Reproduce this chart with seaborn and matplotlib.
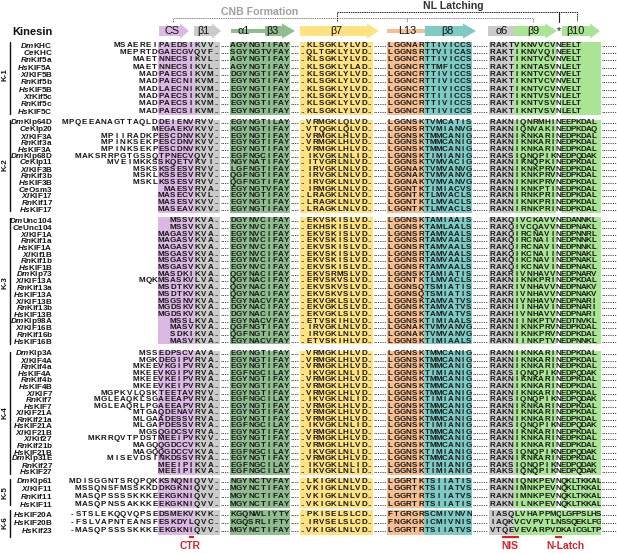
import numpy as np
import seaborn as sns
import matplotlib.pyplot as plt
from matplotlib.colors import ListedColormap
from matplotlib.patches import Polygon, Rectangle

W, H = 617, 554

# names are species|protein, rows are nterm cs b1 a1 b7 l13 b8 a6 b9 nl b10 ("_" = nothing)
K1_NAMES = ['Dm|KHC', 'Ce|KHC', 'Rn|Kif5a', 'Hs|KIF5A', 'Xl|KIF5B', 'Rn|Kif5b', 'Hs|KIF5B', 'Xt|Kif5c', 'Rn|Kif5c', 'Hs|KIF5C']
K1_SEQS = [
    'MSAEREI PAEDSI KVV AGYNGTIFAY KLSGKLYLVD LGGNAR TTIVICCS RAKT VKNVVCV N EELT',
    'MEPRTD GAECGV QVF SGYNGTVFAY QLTGKLYLVD LGGNSR TTVIICAS RAKT IKNVVQI N EELT',
    'MAET NNECSI KVL AGYNGTIFAY KLSGKLYLVD LGGNCR TTIVICCS RAKT IKNTVCV N VELT',
    'MAET NNECSI KVL AGYNGTIFAY KLSGKLYLAD LGGNCR TTMFICCS RAKT IKNTASV N LELT',
    'MAD PAECSI KVM DGYNGTIFAY KLSGKLYLVD LGGNCR TTIVICCS RAKT IKNTVCV N VELT',
    'MAD PAECNI KVM EGYNGTIFAY KLSGKLYLVD LGGNCR TTIVICCS RAKT IKNTVCV N VELT',
    'MAD LAECNI KVM EGYNGTIFAY KLSGKLYLVD LGGNCR TTIVICCS RAKT IKNTVCV N VELT',
    'MAD PAECSI KVM DGYNGTIFAY KLSGKLYLVD LGGNCR TTIIICCS RAKT IKNTVSV N LELT',
    'MAD PAECSI KVM EGYNGTIFAY KLSGKLYLVD LGGNCR TTIVICCS RAKT IKNTVSV N LELT',
    'MAD PAECSI KVM EGYNGTIFAY KLSGKLYLVD LGGNCR TTIVICCS RAKT IKNTVSV N LELT',
]
K2_NAMES = ['Dm|Klp64D', 'Ce|Klp20', 'Xl|KIF3A', 'Rn|Kif3a', 'Hs|KIF3A', 'Dm|Klp68D', 'Ce|Klp11', 'Xl|KIF3B', 'Rn|Kif3b', 'Hs|KIF3B', 'Ce|Osm3', 'Xl|KIF17', 'Rn|Kif17', 'Hs|KIF17']
K2_SEQS = [
    'MPQEEANAGTTAQLD DEIENV RVV EGYNGTILAY VRMGKLQLVD LGGNSK TVMCATIS RAKN IQNRMHI N EEPKDAL',
    'M EGAEKV KVV KGYNGTIFAY VTQGKLQLVD LGGNSR TVMIANVG RAKN IQNVAKI N EDPKDAQ',
    'MPIIRADKP ESCDNV KVV EGYNGTIFAY VRMGKLHLVD LGGNSK TMMCANIG RAKN IKNKARI N EDPKDAL',
    'MPINKSEKP ESCDNV KVV EGYNGTIFAY VRMGKLHLVD LGGNSK TMMCANIG RAKN IKNKARI N EDPKDAL',
    'MPINKSEKP ESCDNV KVV EGYNGTIFAY VRMGKLHLVD LGGNSK TMMCANIG RAKN IKNKARI N EDPKDAL',
    'MAKSRRPGTGSSQ TPNECV QVV EGFNGCIFAY IKVGKLNLID LGGNSK TIMIANIG RAKS IQNQPIK N EDPQDAK',
    'MVEIMKKS SKQETV KVI NGYNATIFAY ITVGRLNLVD LGGNSK TVMVACIG RAKN IKNQPKI N EDPKDAL',
    'MSKS KSSESV RVV LGFNGTIFAY IRVGKLNLVD LGGNAK TVMVANVG RAKN IKNKPRV N EDPKDAL',
    'MSKL KSSESV RVV QGFNGTIFAY IRVGKLNLVD LGGNAK TVMVANVG RAKN IKNKPRV N EDPKDAL',
    'MSKL KSSESV RVV QGFNGTIFAY IRVGKLNLVD LGGNAK TVMVANVG RAKN IKNKPRV N EDPKDAL',
    '_ MAESV RVA EGYNGTVFAY IRMGKLNLVD LGGNTK TIMIACVS RAKN IKNKPTI N EDPKDAL',
    '_ MASECV KVL EGYNGTIFAY LRAGKLNLVD LGGNTK TLMVACLS RAKN IRNKPRI N EDPKDAL',
    '_ MASESV KVV EGYNGTIFAY LRAGKLNLVD LGGNTK TLMVACLS RAKN IKNKPRI N EDPKDAL',
    '_ MASEAV KVV EGYNGTIFAY LRAGKLNLVD LGGNTK TLMVACLS RAKN IRNKPRI N EDPKDAL',
]
K3_NAMES = ['Dm|Unc104', 'Ce|Unc104', 'Xl|KIF1A', 'Rn|Kif1a', 'Hs|KIF1A', 'Xl|Kif1B', 'Rn|Kif1b', 'Hs|KIF1B', 'Dm|Klp73', 'Xl|KIF13A', 'Rn|Kif13a', 'Hs|KIF13A', 'Xl|KIF13B', 'Rn|Kif13b', 'Hs|KIF13B', 'Dm|Klp98A', 'Xl|KIF16B', 'Rn|Kif16b', 'Hs|KIF16B']
K3_SEQS = [
    '_ MSSV KVA DGYNVCIFAY EKVSKISLVD LGGNSK TAMIAAIS RAKQ IVCKAVV N EDANNKL',
    '_ MSSV KVA EGYNVCIFAY EKHSKISLVD LGGNSK TAMLAALS RAKQ IVCQAVV N EDPNAKL',
    '_ MAGASV KVA EGYNVCIFAY EKVSKISLVD LGGNSR TAMVAALS RAKQ IRCNAVI N EDPNNRL',
    '_ MAGASV KVA EGYNVCIFAY EKVSKISLVD LGGNSR TAMVAALS RAKQ IRCNAII N EDPNNKL',
    '_ MAGASV KVA EGYNVCIFAY EKVSKISLVD LGGNSR TAMVAALS RAKQ IRCNAVI N EDPNNKL',
    '_ MSGASV KVA EGYNVCIFAY EKVSKISLVD LGGNSR TAMVAALS RAKQ IKCNAII N EDPNAKL',
    '_ MSGASV KVA EGYNVCIFAY EKVSKISLVD LGGNSR TAMVAALS RAKQ IKCNAVI N EDPNAKL',
    '_ MSGASV KVA EGYNVCIFAY EKVSKISLVD LGGNSR TAMVAALS RAKQ IKCNAVI N EDPNAKL',
    '_ MASDKI KVA QGYNACIFAY EKVSRMSLVD LGGNSK TAMIATIS RAKR IVNHAVV N EDPNARV',
    'MQK MSASKV LVA QGYNACIFAY ERVSKVSLVD LGGNTK TLMVACLS RAKN IKNKPRI N EDPKDAL',
    '_ MSDTKV KVA QGYNACIFAY EKVSKVSLVD LGGNSQ TSMIATIS RAKR IVNHAVV N EDPNAKV',
    '_ MSDTKV KVA QGYNACIFAY EKVSKVSLVD LGGNSQ TSMIATIS RAKR IVNHAVV N EDPNAKV',
    '_ MSGSNV KVA EGYNACVFAY EKVGKLSLVD LGGNSK TAMVATVS RAKN IVNHAVV N EDPNARI',
    '_ MGDSKV KVA DGYNACIFAY EKVGKLSLVD LGGNSK TAMVATVS RAKH IINHAVI N EDPNARI',
    '_ MGDSKV KVA DGYNACIFAY EKVGKLSLVD LGGNSK TAMVATVS RAKH IVNHAVV N EDPNARI',
    '_ MSSL KVA EGYNACVFAY ETVSKIHLVD LGGNSK TIMIAALS RAKN IINKPTV N EDTNVKL',
    '_ MASV KVA QGFNGTIFAY IRVGKLNLVD LGGNAK TVMVANVG RAKN IKNKPRV N EDPKDAL',
    '_ SDKI KVA QGFNGTIFAY IRVGKLNLVD LGGNAK TVMVANVG RAKN IKNKPRV N EDPKDAL',
    '_ MASV KVA EGYNACVFAY ETVSKIHLVD LGGNSK TIMIAALS RAKN IINKPTV N EDPNNKL',
]
K4_NAMES = ['Dm|Klp3A', 'Xl|KIF4A', 'Rn|Kif4a', 'Hs|KIF4A', 'Rn|Kif4b', 'Hs|KIF4B', 'Xl|KIF7', 'Rn|Kif7', 'Hs|KIF7', 'Xl|KIF21A', 'Rn|Kif21a', 'Hs|KIF21A', 'Xl|KIF21B', 'Xl|Kif27', 'Rn|Kif21b', 'Hs|KIF21B', 'Dm|Klp31E', 'Rn|Kif27', 'Hs|KIF27']
K4_SEQS = [
    'MSS EDPSCV AVA EGYNGTIFAY VRMGKLHLVD LGGNSK TMMCANIG RAKN IKNKARI N EDPKDAL',
    'MGK DEGIPV RVA EGYNGTIFAY VRMGKLHLVD LGGNSK TMMCANIG RAKN IKNKARI N EDPKDAL',
    'MKEE VKGIPV RVA EGYNGTIFAY VRMGKLHLVD LGGNSK TMMCANIG RAKN IKNKARI N EDPKDAL',
    'MKEE VKGIPV RVA EGFNGCILAY IKVGKLNLID LGGNSK TIMIANIG RAKS IQNQPIK N EDPQDAK',
    'MKEE VKEIPV RVA EGYNGTIFAY VRMGKLHLVD LGGNSK TMMCANIG RAKN IKNKARI N EDPKDAL',
    'MKEE VKEIPV RVA EGYNGTIFAY VRMGKLHLVD LGGNSK TMMCANIG RAKN IKNKARI N EDPKDAL',
    'MGPKVLQSK TEETAV RVV EGYNGTIFAY VRMGKLHLVD LGGNSK TMMCANIG RAKN IKNKARI N EDPKDAL',
    'MGLEAQKLSG AEEAPV RVA EGFNGCILAY IKVGKLNLID LGGNSK TIMIANIG RAKS IQNQPIK N EDPQDAK',
    'MGLEAQRLPG AEEAPV RVA EGYNGTIFAY VRMGKLHLVD LGGNSK TMMCANIG RAKN IKNKARI N EDPKDAL',
    'MTGA QDENAV RVA EGYNGTIFAY VRMGKLHLVD LGGNSK TMMCANIG RAKN IKNKARI N EDPKDAL',
    'MLGA ADESSV RVA EGYNGTIFAY VRMGKLHLVD LGGNSK TMMCANIG RAKN IKNKARI N EDPKDAL',
    'MLGA PDESSV RVA EGFNGCILAY IKVGKLNLID LGGNSK TIMIANIG RAKS IQNQPIK N EDPQDAK',
    'MGS QGDCSV RVA EGYNGTIFAY VRMGKLHLVD LGGNSK TMMCANIG RAKN IKNKARI N EDPKDAL',
    'MKRRQVTPDST MEEIPV KVV EGYNGTIFAY VRMGKLHLVD LGGNSK TMMCANIG RAKN IKNKARI N EDPKDAL',
    'MAGQ QGDCCV KVA EGYNGTIFAY VRMGKLHLVD LGGNSK TMMCANIG RAKN IKNKARI N EDPKDAL',
    'MAGQ QGDCCV KVA EGFNGCILAY IKVGKLNLID LGGNSK TIMIANIG RAKS IQNQPIK N EDPQDAK',
    'MISEVDSI NKDSSV RVA EGYNGTIFAY VRMGKLHLVD LGGNSK TMMCANIG RAKN IKNKARI N EDPKDAL',
    '_ MEEIPI KVA EGFNGCILAY IKVGKLNLID LGGNSK TIMIANIG RAKS IQNQPIK N EDPQDAK',
    '_ MEEIPI KVA EGFNGCILAY IKVGKLNLID LGGNSK TIMIANIG RAKS IQNQPIK N EDPQDAK',
]
K5_NAMES = ['Dm|Klp61', 'Xl|KIF11', 'Rn|Kif11', 'Hs|KIF11']
K5_SEQS = [
    'MDISGGNTSRQPQK KSNQNI QVV NGYNCTVFAY LKIGKLNLVD LGGRTK TSIIATIS RAKN IQNKPEV N QKLTKKAL',
    'MSSQNSFMSSKKD DKGKNI QVV MGYNCTIFAY VKIGKLNLVD LGGRTK TSIIATVS RAKN IMNKPEV N QKLTKKAL',
    'MASQPSSSSKKKE EKGKNI QVV MGYNCTIFAY VKIGKLNLVD LGGRTR TSIIATVS RAKN IMNKPEV N QKLTKKAL',
    'MASQPNSSAKKKE EKGKNI QVV MGYNCTIFAY VKIGKLNLVD LGGRTR TSIIATIS RAKN ILNKPEV N QKLTKKAL',
]
K6_NAMES = ['Hs|KIF20A', 'Hs|KIF20B', 'Hs|Kif23']
K6_SEQS = [
    '-STSLEKQQVQPSE DSMEKV KVK KGQNWLIYTY PKISELSLCD FTGRGR SCMIVNVN IASQ LVHAPPM Q LGFPSLHS',
    '-FSLVAPNTEANSF ESKDYL QVC KGQSRLIFTY IRVSELSLCD FNGKGK ICMIVNIS IAQK VCVPVTL N SSQEKLFG',
    '-MASQPSSSSKKKE EKGKNI QVV MGYNCTIFAY VKIGKLNLVD LGGRTR TSIIATVS VTQE VEVARPV D KAICGLTP',
]

sns.set_theme(style='white')
plt.rcParams['font.family'] = ['Liberation Sans']
plt.rcParams['mathtext.fontset'] = 'custom'
plt.rcParams['mathtext.bfit'] = 'Liberation Sans:italic:bold'
plt.rcParams['mathtext.rm'] = 'Liberation Sans:bold'

PURPLE, GRAY, GREEN = '#dcb8e4', '#cbcbcb', '#8fbd8f'
YELLOW, ORANGE, TEAL, LIME = '#ffe383', '#f5bf92', '#7ecbc5', '#a9e594'

# family: top and bottom of the coloured band in pixels
FAMILIES = [
    ('K-1', K1_NAMES, K1_SEQS, 41.5, 115),
    ('K-2', K2_NAMES, K2_SEQS, 119.5, 212.5),
    ('K-3', K3_NAMES, K3_SEQS, 217.5, 344.5),
    ('K-4', K4_NAMES, K4_SEQS, 350.5, 475),
    ('K-5', K5_NAMES, K5_SEQS, 477.5, 508),
    ('K-6', K6_NAMES, K6_SEQS, 510, 535),
]

# x0, x1, colour, columns, cells before, cells after, right aligned
BLOCKS = [
    (62, 158, 'white', 15, [], [], True),
    (158, 194, PURPLE, 6, [], [], True),
    (194, 220, GRAY, 4, [], ['..'], False),
    (230, 290, GREEN, 10, [], [], False),
    (300, 373, YELLOW, 12, ['..'], ['..'], False),
    (387, 424, ORANGE, 6, [], [], False),
    (424, 472, TEAL, 8, [], [], False),
    (489, 514, GRAY, 4, [], [], False),
    (514, 556, LIME, 7, [], [], False),
    (556, 561, 'white', 1, [], [], False),
    (561, 601, LIME, 8, [], [], False),
]
GAPS = [(220, 230, '....'), (290, 300, '....'), (373, 387, '......'), (472, 489, '.......'), (601, 617, '.......')]

fig = plt.figure(figsize=(W / 100, H / 100), dpi=100)


def add_ax(x0, x1, top, bottom):
    return fig.add_axes([x0 / W, 1 - bottom / H, (x1 - x0) / W, (bottom - top) / H])


letter_kws = dict(fontsize=5.8, fontweight='bold', color='#161616')

for fam, names, seqs, top, bottom in FAMILIES:
    rows = [s.split() for s in seqs]
    for b, (x0, x1, color, ncol, pre, post, right) in enumerate(BLOCKS):
        cells = []
        for row in rows:
            seg = '' if row[b] == '_' else row[b]
            seg = seg.rjust(ncol - len(pre) - len(post)) if right else seg.ljust(ncol - len(pre) - len(post))
            cells.append(pre + [c.strip() for c in seg] + post)
        cells = np.array(cells, dtype=object)
        if b == 9 and fam == 'K-6':
            color = LIME
        ax = add_ax(x0, x1, top, bottom)
        labels = False
        if b == 0:
            labels = [f"$\\mathbfit{{{n.split('|')[0]}}}$" + n.split('|')[1] for n in names]
        sns.heatmap(np.zeros(cells.shape), ax=ax, cmap=ListedColormap([color]), vmin=0, vmax=1, cbar=False,
                    annot=cells, fmt='', annot_kws=letter_kws, xticklabels=False, yticklabels=labels)
        if b == 0:
            ax.tick_params(axis='y', left=False, length=0, pad=6.5, labelsize=5.9)
            plt.setp(ax.get_yticklabels(), rotation=0, ha='right', fontweight='bold', color='#161616')
    for x0, x1, dots in GAPS:
        ax = add_ax(x0, x1, top, bottom)
        cells = np.array([[dots]] * len(rows), dtype=object)
        sns.heatmap(np.zeros(cells.shape), ax=ax, cmap=ListedColormap(['white']), vmin=0, vmax=1, cbar=False,
                    annot=cells, fmt='', annot_kws=letter_kws, xticklabels=False, yticklabels=False)

# overlay in pixel coordinates for the structure arrows and brackets
top_ax = fig.add_axes([0, 0, 1, 1])
top_ax.set_xlim(0, W)
top_ax.set_ylim(H, 0)
top_ax.axis('off')
top_ax.patch.set_alpha(0)


def arrow(x0, x1, xe, color, y=31):
    pts = [(x0, y - 5), (x1, y - 5), (x1, y - 7.5), (xe, y), (x1, y + 7.5), (x1, y + 5), (x0, y + 5)]
    top_ax.add_patch(Polygon(pts, color=color, lw=0))


def bar(x0, x1, color, y=31, half=2):
    top_ax.add_patch(Rectangle((x0, y - half), x1 - x0, 2 * half, color=color, lw=0))


arrow(159, 180, 189, PURPLE)
arrow(194, 212, 221, GRAY)
bar(231, 266, GREEN)
arrow(265, 282, 295, GREEN)
arrow(300, 367, 379, YELLOW)
bar(387, 425, ORANGE)
arrow(425, 463, 476, TEAL)
bar(488, 514, GRAY, half=5)
arrow(514, 545, 557, LIME)
arrow(562, 590, 600, LIME)

HEADINGS = [('CS', 172), ('β1', 203), ('α1', 244), ('β3', 272), ('β7', 336), ('L13', 407), ('β8', 447), ('α6', 502), ('β9', 533), ('*', 559), ('β10', 575)]
for label, x in HEADINGS:
    top_ax.text(x, 31, label, ha='center', va='center', fontsize=7.8, color='#111111')

top_ax.text(53, 32, 'Kinesin', ha='right', va='center', fontsize=8, fontweight='bold', color='#111111')
top_ax.text(260, 12, 'CNB Formation', ha='center', va='center', fontsize=7.6, fontweight='bold', color='#a0a0a0')
top_ax.text(453, 6, 'NL Latching', ha='center', va='center', fontsize=7.6, fontweight='bold', color='#333333')

gray_kw = dict(color='#8c8c8c', lw=0.7, ls=(0, (1.5, 0.8)))
top_ax.plot([173, 173, 533, 533], [22, 17.7, 17.7, 22], **gray_kw)
top_ax.plot([407, 407], [17.7, 22], **gray_kw)
black_kw = dict(color='#222222', lw=0.7, ls=(0, (1.5, 0.8)))
top_ax.plot([337, 337, 577, 577], [21, 12.3, 12.3, 21], **black_kw)
top_ax.plot([559, 559], [12.3, 22], color='#222222', lw=0.8)

# family labels and side bars
SIDE = {'K-1': (42, 114, 75), 'K-2': (120, 211, 165), 'K-3': (218, 344, 283), 'K-4': (352, 474, 413), 'K-5': (479, 505, 493), 'K-6': (510, 537, 523)}
for fam, (y0, y1, yc) in SIDE.items():
    top_ax.plot([10, 10], [y0, y1], color='#111111', lw=1.0)
    top_ax.text(4.7, yc, fam, rotation=90, ha='center', va='center', fontsize=5.8, fontweight='bold', color='#111111')

# red markers under the alignment
RED = '#d4242b'
for label, x0, x1, xt in [('CTR', 189, 194, 190), ('NIS', 502, 519, 510), ('N-Latch', 555, 562, 565)]:
    top_ax.plot([x0, x1], [537.3, 537.3], color=RED, lw=1.6, solid_capstyle='butt')
    top_ax.text(xt, 546, label, ha='center', va='center', fontsize=7.4, fontweight='bold', color=RED)

fig.savefig('out.png', dpi=100)
